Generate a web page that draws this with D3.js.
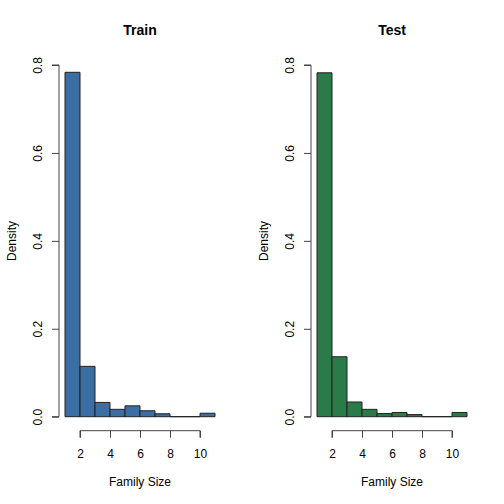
<!DOCTYPE html>
<html><head><meta charset="utf-8">
<script src="https://cdn.jsdelivr.net/npm/d3@7"></script>
<style>body{margin:0;background:#fff}svg{display:block}text{font-family:"Liberation Sans",Arial,sans-serif;fill:#000}</style>
</head><body><svg id="c" width="504" height="504"></svg>
<script>
const breaks = [1,2,3,4,5,6,7,8,9,10,11];
const trainDensity = [0.7834,0.1145,0.0325,0.0168,0.0247,0.0135,0.0067,0,0,0.0079];
const testDensity = [0.7823,0.1364,0.0335,0.0167,0.0072,0.0096,0.0048,0,0,0.0096];
const yTicks = [0,0.2,0.4,0.6,0.8];
const xTicks = [2,4,6,8,10];
const panels = [
  {title:"Train", values:trainDensity, color:"#3A6EA5", offset:0},
  {title:"Test", values:testDensity, color:"#2A7B48", offset:252}
];
const svg = d3.select("#c");
panels.forEach(p=>{
  const g = svg.append("g").attr("transform",`translate(${p.offset},0)`);
  const x = d3.scaleLinear().domain([1,11]).range([65,215]);
  const y = d3.scaleLinear().domain([0,0.8]).range([416.7,65]);
  const bins = p.values.map((v,i)=>({x0:breaks[i],x1:breaks[i+1],v}));
  g.selectAll("path.bar").data(bins).enter().append("path").attr("class","bar")
    .attr("d",d=>`M${x(d.x0)},${y(0)}V${y(d.v)}H${x(d.x1)}V${y(0)}Z`)
    .attr("fill",p.color).attr("stroke","#222").attr("stroke-width",1);
  // y axis
  const ya = g.append("g").attr("transform","translate(59,0)")
    .call(d3.axisLeft(y).tickValues(yTicks).tickSize(7).tickFormat(d3.format(".1f")));
  ya.select(".domain").attr("stroke","#444").attr("d",`M-7,${y(0)}H0V${y(0.8)}H-7`);
  ya.selectAll(".tick line").attr("stroke","#444");
  ya.selectAll(".tick text").attr("transform","rotate(-90)").attr("x",0).attr("y",-21)
    .attr("dy","0.35em").attr("text-anchor","middle").style("font-size","12px");
  // x axis
  const xa = g.append("g").attr("transform","translate(0,430.7)")
    .call(d3.axisBottom(x).tickValues(xTicks).tickSize(7).tickFormat(d3.format("d")));
  xa.select(".domain").attr("stroke","#444").attr("d",`M${x(2)},7V0H${x(10)}V7`);
  xa.selectAll(".tick line").attr("stroke","#444");
  xa.selectAll(".tick text").attr("y",19).attr("dy","0.71em").style("font-size","12px");
  ya.attr("font-family",null); xa.attr("font-family",null);
  g.append("text").attr("x",140).attr("y",35).attr("text-anchor","middle")
    .style("font-size","14px").style("font-weight","bold").text(p.title);
  g.append("text").attr("x",140).attr("y",486).attr("text-anchor","middle")
    .style("font-size","12px").text("Family Size");
  g.append("text").attr("transform","translate(16,241) rotate(-90)").attr("text-anchor","middle")
    .style("font-size","12px").text("Density");
});
</script></body></html>
